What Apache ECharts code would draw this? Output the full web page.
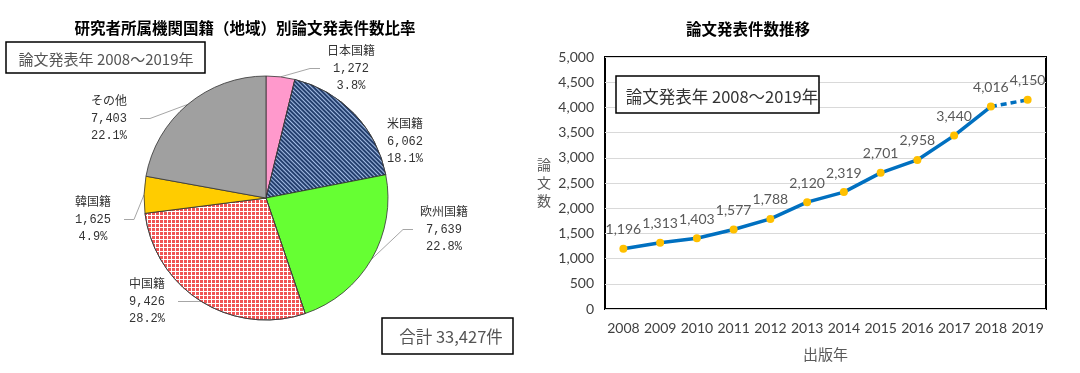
<!DOCTYPE html>
<html><head><meta charset="utf-8">
<script src="https://cdn.jsdelivr.net/npm/echarts@6/dist/echarts.min.js"></script>
<style>html,body{margin:0;padding:0;background:#fff}#c{width:1080px;height:373px}</style>
</head><body><div id="c"></div>
<script>
// Pie data
const pieNames = ['日本国籍','米国籍','欧州国籍','中国籍','韓国籍','その他'];
const pieValues = [1272, 6062, 7639, 9426, 1625, 7403];
const piePctLabels = ['3.8%','18.1%','22.8%','28.2%','4.9%','22.1%'];
const pieTotalLabel = '合計 33,427件';
// Line data
const years = ['2008','2009','2010','2011','2012','2013','2014','2015','2016','2017','2018','2019'];
const papers = [1196, 1313, 1403, 1577, 1788, 2120, 2319, 2701, 2958, 3440, 4016, 4150];
const periodLabel = '論文発表年 2008～2019年';

const fmt = v => v.toLocaleString('en-US');
const pieColors = ['#ff99cc','#243f6e','#66ff33','#ffffff','#ffcc00','#a0a0a0'];
const pieDecals = [null,
  {symbol:'rect', symbolSize:1, dashArrayX:[1,0], dashArrayY:[1,2], rotation:Math.PI/4, color:'#a4bde6'},
  null,
  {symbol:'rect', symbolSize:1, dashArrayX:[3,1], dashArrayY:[3,1], rotation:0, color:'#f05555'},
  null, null];
// label block placement (top-left of each 3-line label)
const labelPos = [[320,43],[374,116],[413,204],[116,276],[62,194],[78,93]];

const pieData = pieNames.map((n,i)=>({
  name:n, value:pieValues[i],
  itemStyle:{color:pieColors[i], decal:pieDecals[i]||undefined}
}));

const lastIdx = papers.length-1;
const solidData = papers.map((v,i)=> i<lastIdx ? v : null);
const dashData = papers.map((v,i)=> i>=lastIdx-1 ? (i===lastIdx-1 ? {value:v, symbol:'none', label:{show:false}} : v) : null);

const chart = echarts.init(document.getElementById('c'), null, {renderer:'canvas'});
const mono = '"Liberation Mono","Noto Sans CJK JP"';
const calib = 'Lato, "Noto Sans CJK JP"';
chart.setOption({
  animation:false,
  backgroundColor:'#fff',
  title:[
    {text:'研究者所属機関国籍（地域）別論文発表件数比率', left:240, top:15, textAlign:'center',
     textStyle:{fontSize:15.5, fontWeight:'bold', color:'#000', fontFamily:'"Noto Sans CJK JP"'}},
    {text:'論文発表件数推移', left:743, top:16, textAlign:'center',
     textStyle:{fontSize:15.5, fontWeight:'bold', color:'#000', fontFamily:'"Noto Sans CJK JP"'}}
  ],
  grid:{left:605, right:34, top:57, bottom:64, show:true, borderColor:'#000', borderWidth:2, backgroundColor:'transparent'},
  xAxis:{type:'category', data:years, boundaryGap:true,
    axisLine:{show:false}, axisTick:{show:false},
    axisLabel:{fontSize:14, color:'#404040', fontFamily:calib, margin:12, interval:0},
    name:'出版年', nameLocation:'middle', nameGap:38,
    nameTextStyle:{fontSize:15, color:'#595959', fontFamily:'"Noto Sans CJK JP"'}},
  yAxis:{type:'value', min:0, max:5000, interval:500,
    axisLine:{show:false}, axisTick:{show:false},
    axisLabel:{fontSize:14, color:'#404040', fontFamily:calib, margin:11, formatter:v=>fmt(v)},
    splitLine:{lineStyle:{color:'#d9d9d9', width:1}},
    name:'論\n文\n数', nameLocation:'middle', nameRotate:0, nameGap:54,
    nameTextStyle:{fontSize:14, color:'#595959', lineHeight:18, fontFamily:'"Noto Sans CJK JP"'}},
  series:[
    {type:'pie', center:[266,198], radius:122, startAngle:90, clockwise:true,
     data:pieData, avoidLabelOverlap:false,
     itemStyle:{borderColor:'#333', borderWidth:0.8},
     label:{show:true, position:'outside', color:'#333', fontFamily:mono, fontSize:12,
       formatter:p=>{const i=p.dataIndex; return '{a|'+pieNames[i]+'}\n{a|'+fmt(pieValues[i])+'}\n{a|'+piePctLabels[i]+'}';},
       rich:{a:{width:62, align:'center', fontSize:12, lineHeight:17, fontFamily:mono, color:'#333'}}},
     labelLine:{show:true, length:10, length2:10, lineStyle:{color:'#a6a6a6', width:1}},
     labelLayout:p=>({x:labelPos[p.dataIndex][0], y:labelPos[p.dataIndex][1], align:'left', verticalAlign:'top'})},
    {type:'line', data:solidData, symbol:'circle', symbolSize:8, z:3,
     lineStyle:{color:'#0070c0', width:3.5}, itemStyle:{color:'#ffc000'},
     label:{show:true, position:'top', distance:8, fontSize:14, color:'#595959', fontFamily:calib, formatter:p=>fmt(p.value)}},
    {type:'line', data:dashData, symbol:'circle', symbolSize:8, z:2,
     lineStyle:{color:'#0070c0', width:3.5, type:[6,4]}, itemStyle:{color:'#ffc000'},
     label:{show:true, position:'top', distance:8, fontSize:14, color:'#595959', fontFamily:calib, formatter:p=>fmt(p.value)}}
  ],
  graphic:[
    {type:'rect', shape:{x:6, y:42, width:199, height:31}, style:{fill:'#fff', stroke:'#000', lineWidth:1.5}},
    {type:'text', x:106, y:59, style:{text:periodLabel, fontSize:15, fill:'#555', align:'center', verticalAlign:'middle', fontFamily:'"Noto Sans CJK JP"'}},
    {type:'rect', shape:{x:382, y:318, width:131, height:36}, style:{fill:'#fff', stroke:'#000', lineWidth:1.5}},
    {type:'text', x:451, y:337, style:{text:pieTotalLabel, fontSize:16.5, fill:'#555', align:'center', verticalAlign:'middle', fontFamily:'"Noto Sans CJK JP"'}},
    {type:'rect', shape:{x:616, y:76, width:203, height:37}, style:{fill:'#fff', stroke:'#000', lineWidth:1.5}, z:10},
    {type:'text', x:722, y:97, z:11, style:{text:periodLabel, fontSize:16.5, fill:'#333', align:'center', verticalAlign:'middle', fontFamily:'"Noto Sans CJK JP"'}}
  ]
});
</script></body></html>
